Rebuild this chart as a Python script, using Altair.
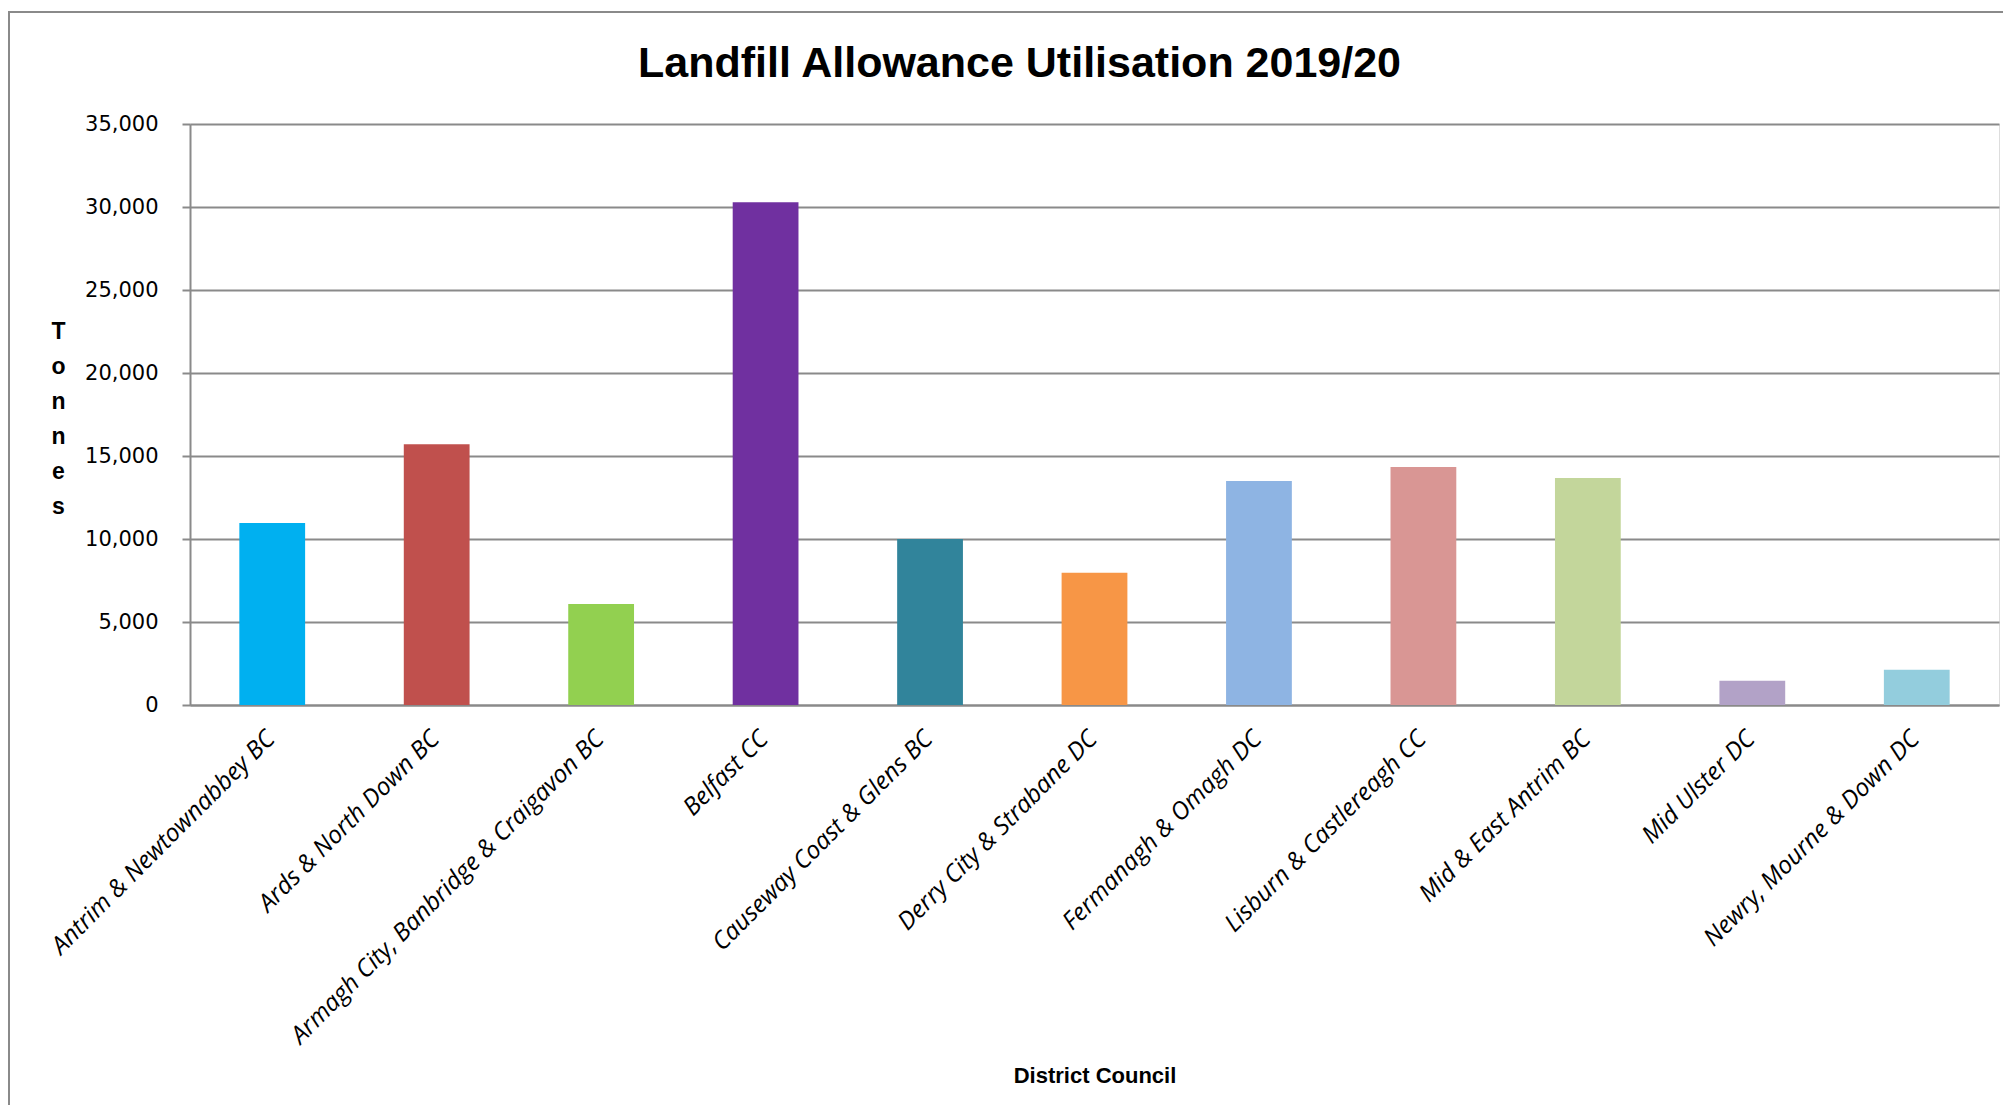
import altair as alt
import pandas as pd

councils = [
    "Antrim & Newtownabbey BC",
    "Ards & North Down BC",
    "Armagh City, Banbridge & Craigavon BC",
    "Belfast CC",
    "Causeway Coast & Glens BC",
    "Derry City & Strabane DC",
    "Fermanagh & Omagh DC",
    "Lisburn & Castlereagh CC",
    "Mid & East Antrim BC",
    "Mid Ulster DC",
    "Newry, Mourne & Down DC",
]
tonnes = [10970, 15710, 6090, 30290, 10000, 7960, 13500, 14340, 13680, 1460, 2130]
colors = [
    "#00B0F0", "#C0504D", "#92D050", "#7030A0", "#31849B", "#F79646",
    "#8EB4E3", "#D99694", "#C3D69B", "#B2A2C7", "#93CDDD",
]
y_ticks = [0, 5000, 10000, 15000, 20000, 25000, 30000, 35000]

df = pd.DataFrame({"council": councils, "tonnes": tonnes})

W, H = 1809, 581
GRAY = "#8a8a8a"

bars = alt.Chart(df).mark_bar().encode(
    x=alt.X(
        "council:N",
        sort=None,
        scale=alt.Scale(paddingInner=0.6, paddingOuter=0.3),
        axis=alt.Axis(
            title="District Council",
            titleFont="Liberation Sans",
            titleFontSize=22,
            titleFontWeight="bold",
            titleColor="#000000",
            titleBaseline="alphabetic",
            titleY=377,
            labelAngle=-45,
            labelAlign="right",
            labelBaseline="middle",
            labelFont="Open Sans",
            labelFontStyle="italic",
            labelFontSize=24.5,
            labelColor="#000000",
            labelPadding=30,
            labelOffset=-1,
            labelLimit=0,
            ticks=False,
            domainColor=GRAY,
            domainWidth=2,
            grid=False,
        ),
    ),
    y=alt.Y(
        "tonnes:Q",
        scale=alt.Scale(domain=[0, 35000], nice=False),
        axis=alt.Axis(
            values=y_ticks,
            format=",.0f",
            title=["T", "o", "n", "n", "e", "s"],
            titleAngle=0,
            titleAlign="center",
            titleBaseline="middle",
            titleFont="Liberation Sans",
            titleFontSize=23,
            titleFontWeight="bold",
            titleColor="#000000",
            titleLineHeight=35,
            titleX=-132,
            titleY=207,
            labelFont="DejaVu Sans",
            labelFontSize=21,
            labelColor="#000000",
            labelPadding=24,
            tickSize=8,
            tickColor=GRAY,
            tickWidth=2,
            domainColor=GRAY,
            domainWidth=2,
            grid=True,
            gridColor=GRAY,
            gridWidth=2,
        ),
    ),
    color=alt.Color(
        "council:N",
        sort=None,
        scale=alt.Scale(domain=councils, range=colors),
        legend=None,
    ),
)

border = alt.Chart(alt.Data(values=[{}])).mark_rect(
    filled=False, stroke=GRAY, strokeWidth=2
).encode(
    x=alt.value(-181),
    x2=alt.value(W + 60),
    y=alt.value(-112),
    y2=alt.value(H + 600),
)

chart = alt.layer(border, bars).properties(
    width=W,
    height=H,
    autosize=alt.AutoSizeParams(type="none"),
    padding={"left": 182, "top": 116, "right": 4, "bottom": 400},
    title=alt.TitleParams(
        text="Landfill Allowance Utilisation 2019/20",
        font="Liberation Sans",
        fontSize=43,
        fontWeight="bold",
        color="#000000",
        anchor="middle",
        baseline="alphabetic",
        offset=-109,
        dx=-75,
    ),
).configure_view(stroke=None).configure(background="white")

chart.save("out.html", embed_options={"renderer": "svg", "actions": False})
